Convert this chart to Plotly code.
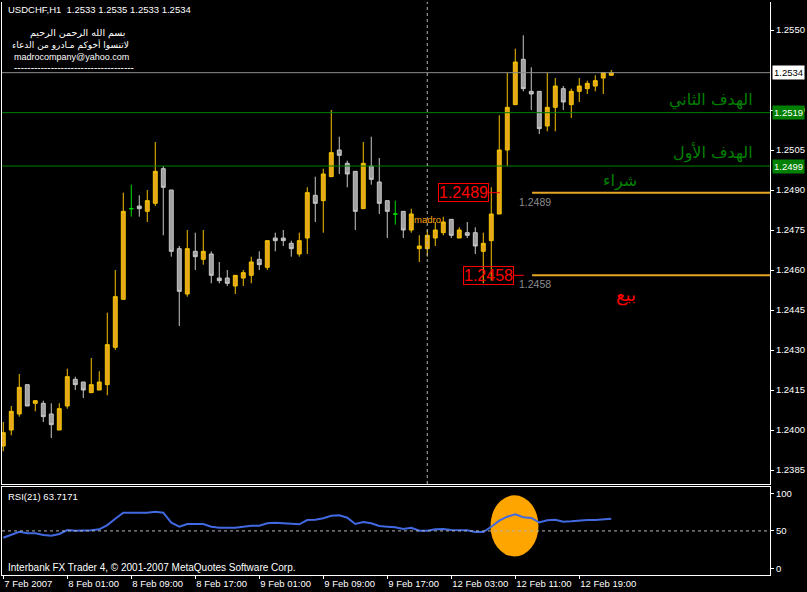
import plotly.graph_objects as go

# ---------------- data ----------------
tick_bars = [0, 8, 16, 24, 32, 40, 48, 56, 64, 72]
tick_labels = ["7 Feb 2007", "8 Feb 01:00", "8 Feb 09:00", "8 Feb 17:00", "9 Feb 01:00",
               "9 Feb 09:00", "9 Feb 17:00", "12 Feb 03:00", "12 Feb 11:00", "12 Feb 19:00"]

opens = [1.2394, 1.2400, 1.2406, 1.2417, 1.2410, 1.2410, 1.2406, 1.2400, 1.2409, 1.2419,
         1.2418, 1.2414, 1.2415, 1.2417, 1.2431, 1.2449, 1.2483, 1.2484, 1.2482, 1.2485,
         1.2498, 1.2490, 1.2468, 1.2451, 1.2467, 1.2464, 1.2466, 1.2457, 1.2457, 1.2454,
         1.2457, 1.2458, 1.2464, 1.2461, 1.2472, 1.2472, 1.2470, 1.2466, 1.2472, 1.2488,
         1.2486, 1.2495, 1.2505, 1.2500, 1.2497, 1.2483, 1.2499, 1.2493, 1.2486, 1.2481,
         1.2482, 1.2475, 1.2468, 1.2468, 1.2472, 1.2474, 1.2479, 1.2472, 1.2474, 1.2474,
         1.2467, 1.2471, 1.2481, 1.2505, 1.2522, 1.2539, 1.2527, 1.2527, 1.2514, 1.2521,
         1.2528, 1.2522, 1.2527, 1.2528, 1.2529, 1.2532, 1.2533]
highs = [1.2403, 1.2409, 1.2421, 1.2417, 1.2411, 1.2411, 1.2410, 1.2410, 1.2423, 1.2420,
         1.2418, 1.2427, 1.2422, 1.2444, 1.2460, 1.2489, 1.2492, 1.2488, 1.2490, 1.2508,
         1.2499, 1.2490, 1.2469, 1.2475, 1.2474, 1.2475, 1.2467, 1.2463, 1.2460, 1.2458,
         1.2460, 1.2465, 1.2467, 1.2471, 1.2474, 1.2475, 1.2471, 1.2474, 1.2491, 1.2495,
         1.2498, 1.2520, 1.2510, 1.2501, 1.2497, 1.2508, 1.2510, 1.2502, 1.2486, 1.2486,
         1.2482, 1.2483, 1.2473, 1.2475, 1.2478, 1.2480, 1.2479, 1.2476, 1.2478, 1.2476,
         1.2474, 1.2491, 1.2518, 1.2534, 1.2543, 1.2548, 1.2536, 1.2527, 1.2534, 1.2532,
         1.2529, 1.2528, 1.2532, 1.2531, 1.2533, 1.2534, 1.2535]
lows = [1.2392, 1.2398, 1.2405, 1.2409, 1.2407, 1.2403, 1.2397, 1.2400, 1.2408, 1.2415,
        1.2412, 1.2414, 1.2415, 1.2413, 1.2430, 1.2449, 1.2480, 1.2480, 1.2478, 1.2484,
        1.2473, 1.2465, 1.2439, 1.2450, 1.2460, 1.2462, 1.2455, 1.2455, 1.2454, 1.2451,
        1.2454, 1.2455, 1.2460, 1.2460, 1.2467, 1.2469, 1.2465, 1.2465, 1.2466, 1.2478,
        1.2474, 1.2495, 1.2496, 1.2491, 1.2475, 1.2483, 1.2492, 1.2481, 1.2472, 1.2477,
        1.2472, 1.2474, 1.2463, 1.2465, 1.2469, 1.2473, 1.2472, 1.2472, 1.2472, 1.2466,
        1.2455, 1.2456, 1.2481, 1.2499, 1.2522, 1.2527, 1.2520, 1.2511, 1.2512, 1.2512,
        1.2520, 1.2517, 1.2523, 1.2526, 1.2527, 1.2526, 1.2533]
closes = [1.2399, 1.2407, 1.2416, 1.2409, 1.2411, 1.2405, 1.2402, 1.2408, 1.2420, 1.2417,
          1.2415, 1.2417, 1.2418, 1.2432, 1.2450, 1.2482, 1.2483, 1.2483, 1.2486, 1.2497,
          1.2491, 1.2467, 1.2452, 1.2468, 1.2465, 1.2467, 1.2458, 1.2456, 1.2455, 1.2458,
          1.2459, 1.2463, 1.2462, 1.2471, 1.2471, 1.2471, 1.2468, 1.2471, 1.2489, 1.2485,
          1.2496, 1.2504, 1.2503, 1.2496, 1.2482, 1.2500, 1.2494, 1.2485, 1.2482, 1.2481,
          1.2475, 1.2481, 1.2469, 1.2473, 1.2475, 1.2478, 1.2473, 1.2475, 1.2473, 1.2469,
          1.2470, 1.2481, 1.2505, 1.2521, 1.2538, 1.2528, 1.2526, 1.2513, 1.2521, 1.2529,
          1.2523, 1.2527, 1.2529, 1.2530, 1.2531, 1.2534, 1.2534]
rsi21 = [41.0, 44.5, 48.9, 46.8, 46.8, 44.5, 43.6, 45.9, 51.2, 50.3,
         50.3, 50.8, 52.1, 57.8, 66.2, 74.2, 74.2, 74.2, 74.2, 75.5,
         74.2, 60.9, 55.6, 59.2, 59.6, 59.2, 55.6, 54.3, 54.3, 54.3,
         55.6, 56.9, 56.9, 60.1, 60.9, 60.1, 58.8, 58.8, 64.5, 64.9,
         66.8, 70.2, 70.7, 67.6, 59.2, 61.8, 60.1, 56.5, 55.6, 54.8,
         52.5, 54.3, 50.3, 50.3, 52.1, 52.5, 51.2, 51.2, 50.8, 48.5,
         48.5, 55.6, 63.6, 68.9, 72.1, 68.1, 67.2, 61.4, 64.1, 64.9,
         62.2, 62.8, 64.1, 64.5, 64.5, 65.8, 66.2]

# 1.2535 is hidden behind the bid-price label in the original
price_ticks = [1.2385, 1.2400, 1.2415, 1.2430, 1.2445, 1.2460, 1.2475, 1.2490,
               1.2505, 1.2520, 1.2550]
target_levels = [1.2519, 1.2499]          # green lines
target_texts = ["الهدف الثاني", "الهدف الأول"]
entry_levels = [1.2489, 1.2458]           # orange lines
entry_texts = ["شراء", "بيع"]
entry_colors = ["#008000", "#FF0000"]
bid_price = 1.2534
separator_bar = 53
rsi_level = 50
rsi_ticks = [0, 50, 100]
rsi_value_text = "RSI(21) 63.7171"
title_text = "USDCHF,H1\u00a0 1.2533 1.2535 1.2533 1.2534"

# ---------------- geometry / styling ----------------
W, H = 807, 592
ML, MR, MT, MB = 2, 37, 2, 17
PW, PH = W - ML - MR, H - MT - MB


def px(x):
    return (x - ML) / PW


def py(y):
    return (H - MB - y) / PH


def price_at(ypix):
    return 1.2550 - (ypix - 30) / 26667.0


X_RANGE = [-0.16, 95.84]
FONT = "Liberation Sans, Arial, sans-serif"
AR_FONT = "DejaVu Sans, Noto Sans, sans-serif"

bars = list(range(len(opens)))
normal = [i for i in bars if opens[i] != closes[i]]
doji = [i for i in bars if opens[i] == closes[i]]

fig = go.Figure()

# RSI highlight ellipse (drawn under line)
fig.add_shape(type="circle", xref="x2", yref="y2", x0=60.9, x1=66.9, y0=16, y1=97.3,
              fillcolor="#FFA500", line=dict(width=0), layer="below")

fig.add_trace(go.Candlestick(
    x=normal, open=[opens[i] for i in normal], high=[highs[i] for i in normal],
    low=[lows[i] for i in normal], close=[closes[i] for i in normal],
    increasing=dict(line=dict(color="#F5C400", width=1), fillcolor="#E6A61E"),
    decreasing=dict(line=dict(color="#C8C8C8", width=1), fillcolor="#A0A0A0"),
    whiskerwidth=0, showlegend=False, hoverinfo="skip", xaxis="x", yaxis="y"))
fig.add_trace(go.Candlestick(
    x=doji, open=[opens[i] for i in doji], high=[highs[i] for i in doji],
    low=[lows[i] for i in doji], close=[closes[i] for i in doji],
    increasing=dict(line=dict(color="#00DD00", width=1), fillcolor="#00DD00"),
    decreasing=dict(line=dict(color="#00DD00", width=1), fillcolor="#00DD00"),
    whiskerwidth=0, showlegend=False, hoverinfo="skip", xaxis="x", yaxis="y"))

fig.add_trace(go.Scatter(x=bars, y=rsi21, mode="lines", line=dict(color="#4169E1", width=2),
                         showlegend=False, hoverinfo="skip", xaxis="x2", yaxis="y2"))

# level lines
for lv in target_levels:
    fig.add_shape(type="line", xref="paper", yref="y", x0=0, x1=1, y0=lv, y1=lv,
                  line=dict(color="#008000", width=1))
fig.add_shape(type="line", xref="paper", yref="y", x0=0, x1=1, y0=bid_price, y1=bid_price,
              line=dict(color="#8C8C8C", width=1))
for lv in entry_levels:
    fig.add_shape(type="line", xref="x", yref="y", x0=66.1, x1=X_RANGE[1], y0=lv, y1=lv,
                  line=dict(color="#E5A624", width=2))
# red connectors from price boxes
for lv, (a, b) in zip(entry_levels, [(60.7, 62.1), (63.8, 65.1)]):
    fig.add_shape(type="line", xref="x", yref="y", x0=a, x1=b, y0=lv, y1=lv,
                  line=dict(color="#FF0000", width=1))
# period separator
fig.add_shape(type="line", xref="x", yref="y domain", x0=separator_bar, x1=separator_bar,
              y0=0, y1=1, line=dict(color="#B4B4B4", width=1, dash="3px,3px"))
# RSI 50 level
fig.add_shape(type="line", xref="paper", yref="y2", x0=0, x1=1, y0=rsi_level, y1=rsi_level,
              line=dict(color="#B4B4B4", width=1, dash="3px,3px"))

ann = []
# top-left info
ann.append(dict(text=title_text, x=px(6), y=py(10), xref="paper", yref="paper",
                xanchor="left", yanchor="middle", showarrow=False,
                font=dict(family=FONT, size=9.5, color="white")))
ann.append(dict(text="بسم الله الرحمن الرحيم", x=px(77), y=py(33), xref="paper", yref="paper",
                xanchor="center", yanchor="middle", showarrow=False,
                font=dict(family=AR_FONT, size=9.5, color="white")))
ann.append(dict(text="لاتنسوا أخوكم مـادرو من الدعاء", x=px(70), y=py(45), xref="paper",
                yref="paper", xanchor="center", yanchor="middle", showarrow=False,
                font=dict(family=AR_FONT, size=9, color="white")))
ann.append(dict(text="madrocompany@yahoo.com", x=px(12), y=py(57), xref="paper", yref="paper",
                xanchor="left", yanchor="middle", showarrow=False,
                font=dict(family=FONT, size=9, color="white")))
ann.append(dict(text="-" * 36, x=px(12), y=py(67), xref="paper", yref="paper",
                xanchor="left", yanchor="middle", showarrow=False,
                font=dict(family=FONT, size=10, color="white")))

# right price labels
ann.append(dict(text=f"{bid_price:.4f}", x=1, y=bid_price, xref="paper", yref="y",
                xanchor="left", yanchor="middle", xshift=2, showarrow=False,
                bgcolor="white", borderpad=1,
                font=dict(family=FONT, size=9.5, color="black")))
for lv in target_levels:
    ann.append(dict(text=f"{lv:.4f}", x=1, y=lv, xref="paper", yref="y",
                    xanchor="left", yanchor="middle", xshift=2, showarrow=False,
                    bgcolor="#008000", borderpad=1,
                    font=dict(family=FONT, size=9.5, color="white")))

# green target texts
for lv, t in zip(target_levels, target_texts):
    ann.append(dict(text=t, x=94.0, y=lv, xref="x", yref="y", xanchor="right",
                    yanchor="bottom", yshift=1, showarrow=False,
                    font=dict(family=AR_FONT, size=16, color="#008000")))

# entry texts / labels
entry_text_bar = [77.1, 77.8]
entry_text_size = [16, 18]
for k, (lv, t, c) in enumerate(zip(entry_levels, entry_texts, entry_colors)):
    ann.append(dict(text=t, x=entry_text_bar[k], y=lv, xref="x", yref="y", xanchor="center",
                    yanchor="bottom" if k == 0 else "top", yshift=0 if k == 0 else -7,
                    showarrow=False,
                    font=dict(family=AR_FONT, size=entry_text_size[k], color=c)))
    ann.append(dict(text=f"{lv:.4f}", x=64.2, y=lv, xref="x", yref="y", xanchor="left",
                    yanchor="top", yshift=-1, showarrow=False,
                    font=dict(family=FONT, size=10.5, color="#8C8C8C")))
for lv, right in zip(entry_levels, [60.7, 63.8]):
    ann.append(dict(text=f"{lv:.4f}", x=right, y=lv, xref="x", yref="y", xanchor="right",
                    yanchor="middle", showarrow=False, bordercolor="#FF0000", borderwidth=1,
                    borderpad=0, font=dict(family=FONT, size=16, color="#FF0000")))

# madro tag
ann.append(dict(text="madro", x=51.1, y=price_at(219), xref="x", yref="y", xanchor="left",
                yanchor="middle", showarrow=False,
                font=dict(family=FONT, size=9.5, color="#FFA500")))

# RSI texts
ann.append(dict(text=rsi_value_text, x=px(6), y=py(496), xref="paper", yref="paper",
                xanchor="left", yanchor="middle", showarrow=False,
                font=dict(family=FONT, size=9.5, color="white")))
ann.append(dict(text="Interbank FX Trader 4, © 2001-2007 MetaQuotes Software Corp.",
                x=px(6), y=py(567), xref="paper", yref="paper", xanchor="left",
                yanchor="middle", showarrow=False,
                font=dict(family=FONT, size=10, color="white")))

axis_common = dict(showgrid=False, zeroline=False, showline=True, linecolor="white",
                   linewidth=1, automargin=False)

fig.update_layout(
    width=W, height=H, margin=dict(l=ML, r=MR, t=MT, b=MB, autoexpand=False),
    paper_bgcolor="black", plot_bgcolor="black",
    showlegend=False, annotations=ann,
    xaxis=dict(domain=[0, 1], anchor="y", range=X_RANGE, showticklabels=False,
               ticks="", rangeslider=dict(visible=False), mirror=False, **axis_common),
    yaxis=dict(domain=[py(484), 1], anchor="x", side="right",
               range=[price_at(484), price_at(2)], tickvals=price_ticks,
               ticktext=[f"{v:.4f}" for v in price_ticks], ticks="outside", ticklen=3,
               tickcolor="white", mirror=True,
               tickfont=dict(family=FONT, size=9.5, color="white"), **axis_common),
    xaxis2=dict(domain=[0, 1], anchor="y2", matches="x", range=X_RANGE,
                tickvals=tick_bars, ticktext=tick_labels, ticks="outside", ticklen=3,
                tickcolor="white", ticklabelposition="outside right", tickangle=0,
                mirror=True,
                tickfont=dict(family=FONT, size=9.5, color="white"), **axis_common),
    yaxis2=dict(domain=[0, py(487)], anchor="x2", side="right", range=[-8.6, 108.4],
                tickvals=rsi_ticks, ticks="outside", ticklen=3, tickcolor="white",
                mirror=True, tickfont=dict(family=FONT, size=9.5, color="white"),
                **axis_common),
)

fig.write_html("out.html", config={"displayModeBar": False},
               post_script="document.body.style.margin='0';document.body.style.background='black';")
